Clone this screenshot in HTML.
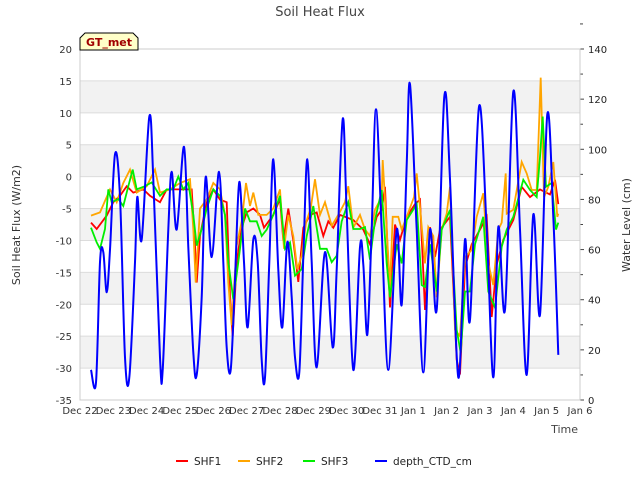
<!DOCTYPE html>
<html><head><meta charset="utf-8"><style>
body{margin:0;background:#fff;font-family:"Liberation Sans","DejaVu Sans",sans-serif;}
svg text{font-family:"DejaVu Sans","Liberation Sans",sans-serif;}
</style></head><body>
<svg id="chart" width="640" height="480" viewBox="0 0 640 480" xmlns="http://www.w3.org/2000/svg">
<text x="320" y="16" text-anchor="middle" font-size="13" fill="#444">Soil Heat Flux</text>
<g id="bands"></g><g id="grid"></g><g id="axes"></g><g id="series"></g>
<text x="20" y="225" transform="rotate(-90 20 225)" text-anchor="middle" font-size="11" fill="#333">Soil Heat Flux (W/m2)</text>
<text x="630" y="225" transform="rotate(-90 630 225)" text-anchor="middle" font-size="11" fill="#333">Water Level (cm)</text>
<text x="578" y="433" text-anchor="end" font-size="11" fill="#444">Time</text>
<g>
<path d="M80,50 L80,38 L85,33 L133,33 L138,38 L138,50 Z" fill="#ffffc8" stroke="#000" stroke-width="1"/>
<text x="109" y="46" text-anchor="middle" font-size="11" font-weight="bold" fill="#a00000">GT_met</text>
</g>
<g id="legend"></g>
</svg>
<script>
const xTickLabels=["Dec 22","Dec 23","Dec 24","Dec 25","Dec 26","Dec 27","Dec 28","Dec 29","Dec 30","Dec 31","Jan 1","Jan 2","Jan 3","Jan 4","Jan 5","Jan 6"];
const leftTicks=[20,15,10,5,0,-5,-10,-15,-20,-25,-30,-35];
const rightTicks=[0,20,40,60,80,100,120,140];
const seriesNames=["SHF1","SHF2","SHF3","depth_CTD_cm"];
const seriesColors=["#ff0000","#ffa500","#00ee00","#0000ff"];
const blueT=[0.33,0.48,0.6,0.7,0.8,0.9,1.05,1.2,1.35,1.48,1.65,1.72,1.85,2.08,2.2,2.4,2.48,2.65,2.75,2.9,3.12,3.25,3.4,3.5,3.65,3.77,3.95,4.17,4.3,4.4,4.52,4.65,4.78,4.92,5.03,5.2,5.33,5.45,5.55,5.68,5.8,5.95,6.07,6.22,6.35,6.45,6.58,6.7,6.82,6.95,7.1,7.35,7.58,7.7,7.88,8.0,8.2,8.4,8.5,8.62,8.75,8.88,9.05,9.25,9.5,9.65,9.8,9.9,10.1,10.3,10.5,10.7,10.93,11.1,11.35,11.55,11.7,11.97,12.2,12.4,12.55,12.75,13.0,13.2,13.4,13.6,13.8,14.02,14.2,14.35];
const blueV=[12,7,55,59,43,60,98,81,17,9,55,81,64,113,88,17,12,68,91,68,101,61,19,10,41,89,57,91,55,21,12,48,87,55,29,64,55,16,9,55,96,52,29,63,41,17,11,57,96,55,13,59,21,52,112,75,12,61,54,26,68,116,68,12,68,38,94,126,68,11,68,36,121,88,9,64,32,117,68,9,69,36,123,68,10,74,34,114,73,18];
const redT=[0.33,0.5,0.8,1.0,1.2,1.4,1.6,1.9,2.1,2.4,2.6,3.2,3.35,3.45,3.5,3.6,3.8,4.0,4.2,4.4,4.5,4.58,4.7,4.85,5.0,5.2,5.4,5.52,5.8,6.0,6.1,6.25,6.4,6.55,6.7,6.9,7.1,7.3,7.45,7.6,7.8,8.2,8.5,8.7,8.9,9.05,9.15,9.3,9.45,9.6,9.8,10.05,10.2,10.35,10.5,10.65,10.8,11.1,11.3,11.4,11.55,11.75,12.0,12.2,12.35,12.5,12.7,13.0,13.25,13.5,13.8,14.1,14.25,14.35];
const redV=[-7.2,-8.2,-6.1,-4,-3,-1.5,-2.5,-2,-3,-4,-2,-2,-2,-10.8,-16.6,-9.3,-4,-2,-3.6,-4,-18.6,-25,-13.4,-8,-5.6,-5,-6,-8,-6,-3.5,-10,-5,-10,-16.5,-8,-6,-5.6,-9.3,-7,-8,-6,-6.8,-8.3,-10.6,-6.3,-5.2,-1.6,-20.5,-7.5,-9.9,-6.3,-4.3,-3.6,-20.9,-7.9,-12.6,-8.3,-6.3,-28.7,-31,-14.2,-10.6,-8.3,-6.3,-22,-13.8,-9.9,-6.8,-1.6,-3.2,-2,-2.8,-0.5,-4.3];
const orangeT=[0.33,0.6,0.9,1.1,1.3,1.5,1.7,2.0,2.25,2.4,2.7,3.0,3.3,3.4,3.47,3.6,3.8,4.0,4.2,4.35,4.45,4.55,4.7,4.85,4.98,5.1,5.2,5.35,5.6,5.8,6.0,6.12,6.25,6.4,6.52,6.65,6.78,6.92,7.05,7.2,7.35,7.55,7.75,7.95,8.05,8.2,8.4,8.55,8.7,8.85,9.05,9.08,9.2,9.3,9.38,9.55,9.65,9.8,10.02,10.1,10.2,10.35,10.45,10.6,10.7,10.85,11.0,11.1,11.25,11.4,11.55,11.75,11.9,12.1,12.25,12.4,12.55,12.65,12.77,12.8,13.0,13.25,13.4,13.55,13.7,13.82,13.92,14.05,14.2,14.32,14.35];
const orangeV=[-6.1,-5.6,-2,-4,-1,1.1,-2.5,-1.5,1.1,-2.5,-2,-1,-0.4,-8.2,-16.6,-5,-3.6,-1,-2,-6,-16.6,-23.3,-10.8,-7,-1,-4.6,-2.5,-6,-6,-5,-2,-11.3,-6,-9.3,-14.5,-12.4,-7.2,-5,-0.4,-6,-4,-7.7,-6,-4,-1.5,-8,-6,-8.3,-9.3,-5.2,-3.2,2.6,-8.3,-17.3,-6.3,-6.3,-8.3,-6.3,-3.2,0.5,-4.8,-13.6,-7.9,-9.3,-18.9,-8.3,-5.8,-1.6,-24,-25,-12.6,-11.5,-6.3,-2.6,-13.6,-17,-8.3,-7.2,0.5,-5.8,-5.2,2.3,0.5,-2.1,-2.1,15.5,-3.2,-1.6,2.3,-6.3,-5.8];
const greenT=[0.33,0.5,0.6,0.75,0.85,0.95,1.15,1.3,1.45,1.58,1.7,1.95,2.15,2.4,2.6,2.8,2.95,3.1,3.25,3.4,3.5,3.65,3.8,4.0,4.2,4.35,4.45,4.6,4.75,4.95,5.1,5.3,5.45,5.6,5.8,6.0,6.15,6.3,6.45,6.65,6.8,7.0,7.2,7.4,7.55,7.7,7.85,8.05,8.2,8.4,8.55,8.7,8.85,9.05,9.2,9.3,9.5,9.65,9.8,10.1,10.25,10.35,10.5,10.7,10.85,11.1,11.3,11.42,11.55,11.7,11.85,12.1,12.25,12.45,12.65,12.8,13.0,13.3,13.5,13.7,13.8,13.88,13.98,14.15,14.28,14.35];
const greenV=[-8,-10.3,-11.3,-8.2,-2,-4,-3.5,-4.6,-1.5,1.1,-2,-1.5,-0.9,-3,-2,-2,0,-2,-1,-6,-10.8,-8.2,-5,-2,-3,-6,-13.4,-19.2,-13.4,-5,-7,-7,-9.3,-8.3,-6,-3,-11.3,-10.3,-15.5,-14.5,-9.3,-4.6,-11.3,-11.3,-13.4,-12.4,-7,-4,-8.2,-8.2,-7.9,-13,-6.8,-2.1,-13.6,-18.9,-10.6,-13.6,-6.8,-4.3,-17,-17.3,-10.6,-18,-8.3,-5.2,-24,-27.6,-18,-18,-10.6,-6.3,-18,-20.5,-11,-8.3,-6.3,-0.5,-2.1,-3.2,3.1,9.4,-1.6,-1,-8.3,-7.2];

const NS="http://www.w3.org/2000/svg";
const L=80,R=580,T=49,B=400;
const xs=d=>L+d*(R-L)/15;
const yl=v=>T+(20-v)*(B-T)/55;
const yr=v=>B-v*(B-T)/140;
function mk(tag,attrs,parent){const e=document.createElementNS(NS,tag);for(const k in attrs)e.setAttribute(k,attrs[k]);parent.appendChild(e);return e;}
const bands=document.getElementById('bands'),grid=document.getElementById('grid'),axes=document.getElementById('axes'),ser=document.getElementById('series'),leg=document.getElementById('legend');
mk('rect',{x:L,y:T,width:R-L,height:B-T,fill:'#fff'},bands);
for(let i=0;i<leftTicks.length-1;i++){
  if(i%2===1){const r=mk('rect',{x:L,y:yl(leftTicks[i]),width:R-L,height:yl(leftTicks[i+1])-yl(leftTicks[i]),fill:'#f2f2f2'},bands);
  
  }
}
leftTicks.forEach(v=>{
  mk('line',{x1:L,x2:R,y1:yl(v),y2:yl(v),stroke:'#dcdcdc','stroke-width':1},grid);
  const t=mk('text',{x:L-8,y:yl(v)+4,'text-anchor':'end','font-size':10,fill:'#333'},axes);t.textContent=v;
  
  
});
rightTicks.forEach(v=>{
  mk('line',{x1:R,x2:R+4,y1:yr(v),y2:yr(v),stroke:'#444'},axes);
  mk('line',{x1:R,x2:R+3,y1:yr(v+10),y2:yr(v+10),stroke:'#444'},axes);
  const t=mk('text',{x:R+8,y:yr(v)+4,'font-size':10,fill:'#222'},axes);t.textContent=v;
  
  
});
xTickLabels.forEach((s,i)=>{
  const t=mk('text',{x:xs(i),y:B+14,'text-anchor':'middle','font-size':10,fill:'#333'},axes);t.textContent=s;
  
  
});
mk('rect',{x:L,y:T,width:R-L,height:B-T,fill:'none',stroke:'#ccc'},axes);
function linePath(ts,vs,yf){return ts.map((t,i)=>(i?'L':'M')+xs(t).toFixed(1)+','+yf(vs[i]).toFixed(1)).join(' ');}
function smoothPath(ts,vs,yf){const p=ts.map((t,i)=>[xs(t),yf(vs[i])]);let d='M'+p[0][0]+','+p[0][1];
  for(let i=0;i<p.length-1;i++){const p0=p[i-1]||p[i],p1=p[i],p2=p[i+1],p3=p[i+2]||p2;
  d+=' C'+(p1[0]+(p2[0]-p0[0])/6).toFixed(1)+','+(p1[1]+(p2[1]-p0[1])/6).toFixed(1)+' '+(p2[0]-(p3[0]-p1[0])/6).toFixed(1)+','+(p2[1]-(p3[1]-p1[1])/6).toFixed(1)+' '+p2[0].toFixed(1)+','+p2[1].toFixed(1);}
  return d;}
const r1=mk('path',{d:linePath(redT,redV,yl),fill:'none',stroke:seriesColors[0],'stroke-width':1.8},ser);


const r2=mk('path',{d:linePath(orangeT,orangeV,yl),fill:'none',stroke:seriesColors[1],'stroke-width':1.8},ser);


const r3=mk('path',{d:linePath(greenT,greenV,yl),fill:'none',stroke:seriesColors[2],'stroke-width':1.8},ser);


const r4=mk('path',{d:smoothPath(blueT,blueV,yr),fill:'none',stroke:seriesColors[3],'stroke-width':2},ser);


const lx=[176,238,303,375];
seriesNames.forEach((n,i)=>{
  const g=mk('g',{},leg);
  
  
  mk('line',{x1:lx[i],x2:lx[i]+12,y1:461,y2:461,stroke:seriesColors[i],'stroke-width':2},g);
  const t=mk('text',{x:lx[i]+18,y:465,'font-size':10.5,fill:'#222'},g);t.textContent=n;
});
</script>
</body></html>
